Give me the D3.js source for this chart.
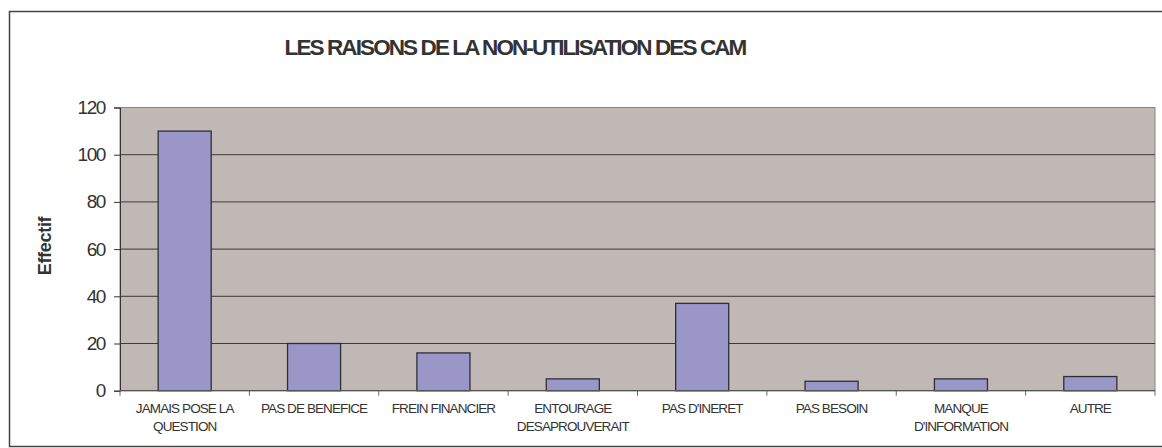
<!DOCTYPE html>
<html>
<head>
<meta charset="utf-8">
<title>Les raisons de la non-utilisation des CAM</title>
<script src="https://cdn.jsdelivr.net/npm/d3@7"></script>
<style>
  body { margin: 0; background: #fff; }
  text { font-family: "Liberation Sans", Arial, sans-serif; fill: #333; }
</style>
</head>
<body>
<script>
// data
var categories = ["JAMAIS POSE LA QUESTION", "PAS DE BENEFICE", "FREIN FINANCIER",
  "ENTOURAGE DESAPROUVERAIT", "PAS D'INERET", "PAS BESOIN", "MANQUE D'INFORMATION", "AUTRE"];
var labelLines = [["JAMAIS POSE LA", "QUESTION"], ["PAS DE BENEFICE"], ["FREIN FINANCIER"],
  ["ENTOURAGE", "DESAPROUVERAIT"], ["PAS D'INERET"], ["PAS BESOIN"], ["MANQUE", "D'INFORMATION"], ["AUTRE"]];
var effectif = [110, 20, 16, 5, 37, 4, 5, 6];
var yTicks = [0, 20, 40, 60, 80, 100, 120];

var W = 1162, H = 448;
var plot = {left: 120, top: 107.5, right: 1155, bottom: 390.7};

var svg = d3.select("body").append("svg")
    .attr("width", W).attr("height", H);

// outer frame (right edge runs off the picture)
svg.append("rect")
    .attr("x", 9.5).attr("y", 11.5)
    .attr("width", 1170).attr("height", 435)
    .attr("fill", "none").attr("stroke", "#444").attr("stroke-width", 1.5);

var x = d3.scaleBand().domain(categories)
    .range([plot.left, plot.right]).paddingInner(0.59).paddingOuter(0.295);
var xb = d3.scaleBand().domain(categories).range([plot.left, plot.right]);
var y = d3.scaleLinear().domain([0, 120]).range([plot.bottom, plot.top]);

// plot background
svg.append("rect")
    .attr("x", plot.left).attr("y", plot.top)
    .attr("width", plot.right - plot.left).attr("height", plot.bottom - plot.top)
    .attr("fill", "#c0b8b5").attr("stroke", "#8a8282").attr("stroke-width", 1);

// gridlines
svg.append("g").selectAll("line")
    .data(yTicks.filter(function(d) { return d > 0 && d < 120; }))
    .enter().append("line")
    .attr("x1", plot.left).attr("x2", plot.right)
    .attr("y1", function(d) { return y(d); }).attr("y2", function(d) { return y(d); })
    .attr("stroke", "#3a3a3a").attr("stroke-width", 1);

// bars
svg.append("g").selectAll("rect")
    .data(effectif)
    .enter().append("rect")
    .attr("x", function(d, i) { return x(categories[i]); })
    .attr("y", function(d) { return y(d); })
    .attr("width", x.bandwidth())
    .attr("height", function(d) { return y(0) - y(d); })
    .attr("fill", "#9b96c8")
    .attr("stroke", "#2e2e36").attr("stroke-width", 1.3);

// y axis
var yAxis = svg.append("g")
    .attr("transform", "translate(" + plot.left + ",0)")
    .call(d3.axisLeft(y).tickValues(yTicks).tickSize(6).tickPadding(9));
yAxis.select(".domain").attr("stroke", "#333");
yAxis.selectAll(".tick line").attr("stroke", "#333");
yAxis.selectAll(".tick text")
    .style("font-size", "19px").attr("letter-spacing", "-1.4").attr("fill", "#333");

// x axis: baseline, boundary ticks, labels
svg.append("line")
    .attr("x1", plot.left).attr("x2", plot.right)
    .attr("y1", y(0)).attr("y2", y(0))
    .attr("stroke", "#555").attr("stroke-width", 1.2);

var bounds = categories.map(function(c) { return xb(c); }).concat([plot.right]);
svg.append("g").selectAll("line")
    .data(bounds).enter().append("line")
    .attr("x1", function(d) { return d; }).attr("x2", function(d) { return d; })
    .attr("y1", y(0)).attr("y2", y(0) + 5)
    .attr("stroke", "#666");

var xAxis = svg.append("g")
    .attr("transform", "translate(0," + y(0) + ")")
    .call(d3.axisBottom(xb).tickSize(0).tickFormat(""));
xAxis.select(".domain").remove();
xAxis.selectAll(".tick").each(function(d, i) {
  var t = d3.select(this).append("text")
      .attr("text-anchor", "middle")
      .style("font-size", "13.5px")
      .attr("letter-spacing", "-0.9");
  labelLines[i].forEach(function(line, k) {
    t.append("tspan").attr("x", 0).attr("y", 22 + k * 18).text(line);
  });
});

// title
svg.append("text")
    .attr("x", 515).attr("y", 55)
    .attr("text-anchor", "middle")
    .style("font-size", "22.5px").style("font-weight", "bold")
    .attr("letter-spacing", "-1.9")
    .text("LES RAISONS DE LA NON-UTILISATION DES CAM");

// y label
svg.append("text")
    .attr("transform", "translate(51,246) rotate(-90)")
    .attr("text-anchor", "middle")
    .style("font-size", "18px").style("font-weight", "bold")
    .attr("letter-spacing", "-0.3")
    .text("Effectif");
</script>
</body>
</html>
